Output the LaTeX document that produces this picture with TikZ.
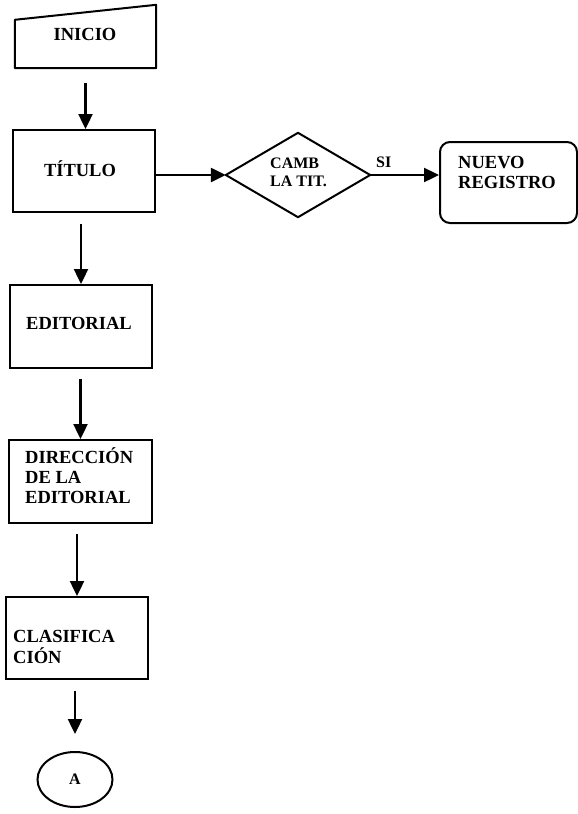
\documentclass[tikz,border=0pt]{standalone}
\usepackage{fontspec}
\setmainfont{Liberation Serif}
\usetikzlibrary{arrows.meta,shapes.geometric}
\begin{document}
\begin{tikzpicture}[x=1pt,y=-1pt,
  lw/.style={line width=2pt},
  box/.style={draw, lw, minimum width=142pt, minimum height=82pt, inner sep=0pt},
  ghost/.style={inner sep=0pt},
  txt/.style={font=\fontsize{18.5}{20}\selectfont\bfseries, align=left, inner sep=0pt},
  smalltxt/.style={font=\fontsize{16}{18}\selectfont\bfseries, align=left, inner sep=0pt},
  arr/.style={line width=2.4pt, -{Triangle[length=15pt,width=14pt]}}]
\useasboundingbox (0,0) rectangle (578,814);

% INICIO (manual input shape)
\node[ghost, minimum width=141pt, minimum height=63pt] (ini) at (85.5,36.5) {};
\draw[lw, line join=round] (ini.south west) -- (ini.south east) -- (ini.north east)
  -- ([yshift=-15pt]ini.north west) -- cycle;
\node[txt, anchor=base] (initx) at (85,40) {INICIO};

% TITULO
\node[box] (tit) at (84,171) {};
\node[txt, anchor=base] (tittx) at (80,176) {TÍTULO};

% decision
\node[ghost, minimum width=144pt, minimum height=84pt] (dia) at (298,175) {};
\draw[lw, line join=round] (dia.west) -- (dia.north) -- (dia.east) -- (dia.south) -- cycle;
\node[smalltxt, anchor=west] (diatx) at (270,172) {CAMB\\LA TIT.};

% NUEVO REGISTRO
\node[draw, lw, rounded corners=10pt, minimum width=137pt, minimum height=81pt, inner sep=0pt] (nue) at (508.5,182.5) {};
\node[txt, anchor=west] (nuetx) at (458,172.5) {NUEVO\\REGISTRO};

% EDITORIAL
\node[box, minimum height=83pt] (edi) at (81,326.5) {};
\node[txt, anchor=base west] (editx) at (26,329) {EDITORIAL};

% DIRECCION
\node[box, minimum width=143pt, minimum height=83pt] (dir) at (80.5,481.5) {};
\node[txt, anchor=west] (dirtx) at (25,475.7) {DIRECCIÓN\\DE LA\\EDITORIAL};

% CLASIFICACION
\node[box] (cla) at (77,638) {};
\node[txt, anchor=west, font=\fontsize{18.5}{21}\selectfont\bfseries] (clatx) at (13,646.5) {CLASIFICA\\CIÓN};

% connector A
\node[draw, lw, ellipse, minimum width=75pt, minimum height=55pt, inner sep=0pt,
  font=\fontsize{16}{18}\selectfont\bfseries] (a) at (75,779.5) {A};

% arrows
\draw[arr, shorten <=15pt] (ini.south) -- (ini.south |- tit.north);
\draw[arr] (tit.east |- dia.west) -- (dia.west);
\draw[arr] (dia.east) -- (nue.west |- dia.east);
\node[font=\fontsize{16}{18}\selectfont\bfseries, inner sep=0pt, anchor=base west] (si) at (376,167) {SI};
\draw[arr, shorten <=11pt] (tit.south -| edi.north) -- (edi.north);
\draw[arr, shorten <=10pt] (edi.south -| dir.north) -- (dir.north);
\draw[arr, shorten <=10pt] (dir.south -| cla.north) -- (cla.north);
\draw[arr, shorten <=11pt, shorten >=17pt] (cla.south -| a.north) -- (a.north);
\end{tikzpicture}
\end{document}
